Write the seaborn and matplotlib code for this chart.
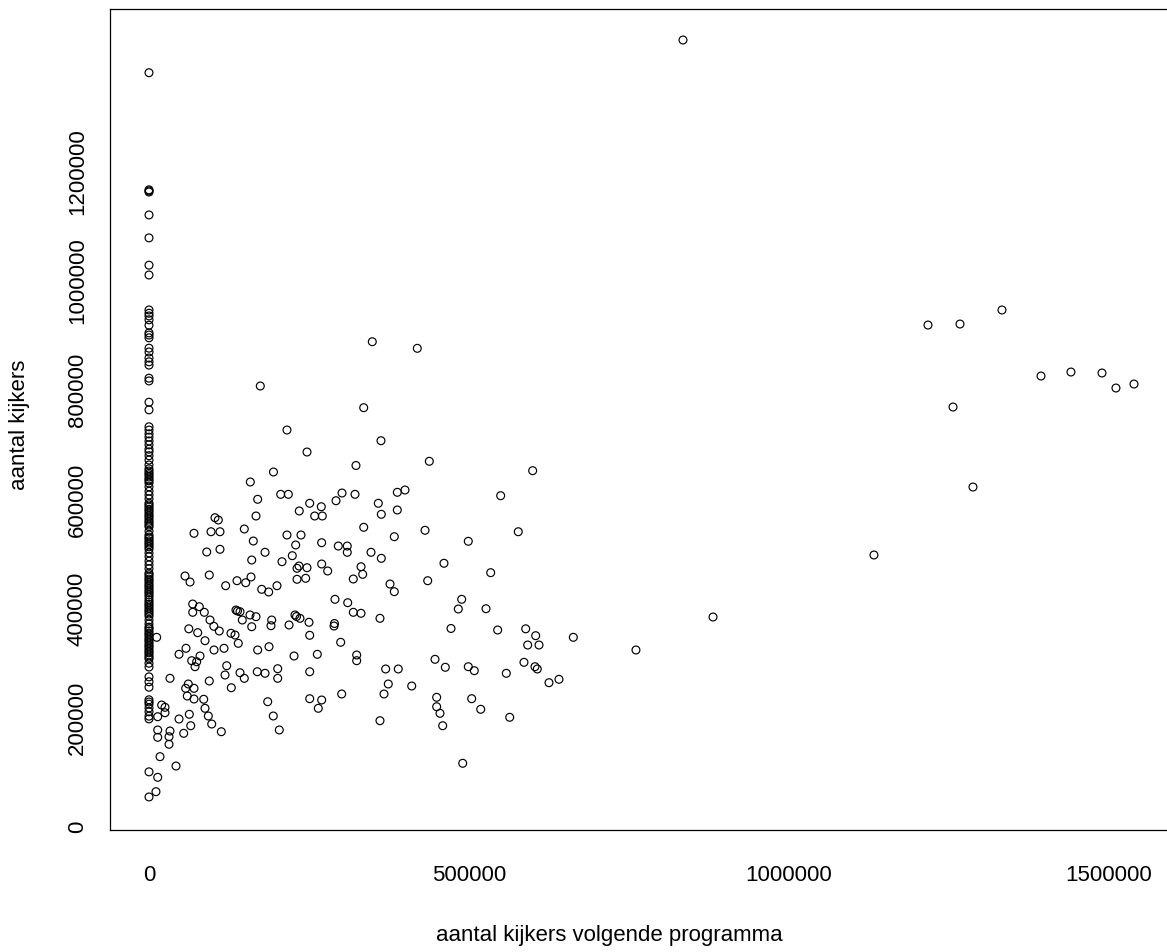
import matplotlib
matplotlib.use("Agg")
import matplotlib.pyplot as plt
import numpy as np
import pandas as pd
import seaborn as sns

# ---- data ----
# programmes followed by a programme with 0 viewers (x = 0)
zero_col_kijkers = [
    1381500, 1167000, 1165000, 1163000, 1121000, 1079000, 1029000, 1011000,
    947000, 941000, 936000, 929000, 919000, 905000, 901000, 896000, 877000,
    870000, 859000, 852000, 846000, 822000, 817000, 778000, 764000, 733000,
    727000, 720000, 714000, 707000, 700000, 692000, 687000, 680000, 672000,
    663000, 656000, 652000, 648000, 645000, 641000, 637000, 634000, 630000,
    623000, 615000, 608000, 601000, 593000, 590000, 586000, 582000, 579000,
    575000, 571000, 568000, 564000, 560000, 557000, 553000, 550000, 542000,
    535000, 531000, 528000, 524000, 520000, 517000, 513000, 509000, 502000,
    495000, 487000, 480000, 473000, 465000, 462000, 458000, 454000, 451000,
    447000, 443000, 440000, 436000, 432000, 429000, 425000, 421000, 416000,
    412000, 408000, 405000, 401000, 397000, 394000, 390000, 386000, 379000,
    372000, 366000, 363000, 359000, 355000, 352000, 348000, 344000, 341000,
    337000, 333000, 330000, 326000, 322000, 319000, 315000, 311000, 308000,
    300000, 293000, 275000, 266000, 256000, 233000, 229000, 225000, 218000,
    211000, 203000, 198000, 101000, 55000,
]
zero_col_volgende = [0] * len(zero_col_kijkers)

cloud_volgende = [
    173900, 215600, 246900, 194500, 348900, 419200, 335500, 362500, 323400,
    438000, 599500, 158300, 205800, 217700, 169800, 301600, 292200, 251100,
    269200, 234800, 103100, 108300, 167200, 258900, 270800, 70300, 96900,
    110900, 148900, 215600, 237500, 163000, 229200, 269800, 295800, 90200,
    110900, 181300, 223900, 160500, 207800, 231300, 234400, 246900, 269800,
    279200, 56300, 64100, 94200, 119800, 137500, 151100, 159400, 176100,
    187000, 200000, 231300, 244800, 290600, 68300, 78600, 68300, 86400,
    135900, 138300, 142200, 145800, 157800, 167200, 191700, 228100, 230500,
    235900, 218800, 250000, 289100, 289800, 95300, 62200, 101300, 160500,
    190600, 76100, 109800, 87500, 12000, 128100, 134400, 139500, 251100,
    299500, 57800, 46900, 66700, 74500, 71900, 79700, 101600, 117200, 169800,
    187500, 226600, 263000, 121400, 118800, 142200, 148900, 169200, 181300,
    201100, 201100, 251100, 32800, 94200, 61400, 57300, 70300, 59800, 70300,
    128600, 85500, 87500, 92700, 98000, 113000, 185500, 194200, 203600,
    251100, 269800, 264500, 301100, 19800, 25000, 13600, 25000, 46900, 63000,
    65200, 54200, 32800, 31300, 31300, 13600, 13600, 17200, 42200, 13600,
    10900, 321900, 388000, 400000, 358300, 363000, 388000, 549500, 335500,
    383300, 431300, 577000, 498900, 309800, 309800, 346900, 363000, 331300,
    333900, 319200, 376600, 383300, 460900, 435500, 533900, 310500, 319200,
    331300, 360900, 488600, 483300, 526600, 471900, 544800, 588600, 591700,
    324500, 324500, 369800, 389500, 446900, 463000, 498900, 508300, 558300,
    585900, 373900, 367200, 410500, 449500, 449500, 454700, 458900, 504200,
    518300, 563600, 360900, 490200, 604200, 609400, 663000, 603100, 606700,
    625000, 640600, 760900, 881300,
]
cloud_kijkers = [
    807700, 727100, 686800, 650200, 888800, 876700, 768000, 707500, 662100,
    669800, 652600, 631900, 609300, 609300, 600200, 611700, 597600, 592900,
    586600, 578800, 566500, 562300, 569600, 569600, 569600, 537900, 540800,
    540800, 545800, 534800, 534800, 523800, 516500, 520700, 514600, 503700,
    508600, 503100, 496900, 489000, 485900, 473800, 478000, 474900, 481700,
    468900, 459700, 448700, 461500, 441900, 451100, 447400, 457900, 435300,
    430400, 441900, 453700, 455500, 417000, 408400, 403500, 393200, 393200,
    397400, 395600, 394300, 379100, 388300, 385200, 379100, 388300, 385500,
    382200, 370000, 374900, 368100, 372700, 379100, 363000, 367600, 366800,
    368700, 355900, 359000, 341200, 347400, 354800, 351600, 336400, 351100,
    338300, 327300, 316300, 304600, 302700, 293600, 313200, 324200, 327300,
    324200, 330200, 313200, 316300, 295400, 278400, 282600, 272300, 284400,
    281500, 289900, 272300, 284400, 272300, 267400, 261900, 254000, 254000,
    239900, 234400, 255100, 233900, 217400, 203300, 188600, 174500, 229500,
    203300, 177700, 235000, 232600, 217400, 243600, 223400, 219200, 202000,
    209300, 197800, 206400, 185500, 171600, 175800, 165400, 151500, 177700,
    164300, 128800, 111700, 91000, 64700, 609300, 613000, 617200, 592900,
    572700, 580600, 606800, 548900, 531700, 543400, 540800, 523300, 514600,
    503100, 503100, 492100, 476700, 462800, 454200, 445000, 431000, 483000,
    451100, 465800, 410800, 393200, 391400, 382200, 417000, 399300, 399800,
    363600, 360800, 363000, 333300, 315000, 304600, 289400, 289400, 307100,
    292500, 293600, 286300, 281500, 301600, 261900, 243600, 258200, 237500,
    220300, 208200, 185500, 235000, 215600, 200900, 194700, 116700, 350400,
    333300, 347400, 293600, 289400, 264300, 270500, 324200, 384600,
]

right_volgende = [834400, 1217200, 1267200, 1332800, 1256300, 1287500,
                  1132800, 1393800, 1440600, 1489100, 1510900, 1539100]
right_kijkers = [1441400, 919400, 921200, 946900, 769200, 622700,
                 498200, 826000, 833300, 831500, 804000, 811300]

x_ticks = [0, 500000, 1000000, 1500000]
x_tick_labels = ["0", "500000", "1000000", "1500000"]
y_ticks = [0, 200000, 400000, 600000, 800000, 1000000, 1200000]
y_tick_labels = ["0", "200000", "400000", "600000", "800000", "1000000", "1200000"]

df = pd.DataFrame({
    "volgende": zero_col_volgende + cloud_volgende + right_volgende,
    "kijkers": zero_col_kijkers + cloud_kijkers + right_kijkers,
})

# ---- drawing ----
sns.set_theme(style="white")
plt.rcParams["font.family"] = ["Liberation Sans", "DejaVu Sans"]
FS = 16

W, H = 1167, 952
fig = plt.figure(figsize=(W / 100, H / 100), dpi=100)
fig.patch.set_facecolor("white")
left_px, right_px, top_px, bottom_px = 110, 1174, 9, 830
ax = fig.add_axes([left_px / W, 1 - bottom_px / H,
                   (right_px - left_px) / W, (bottom_px - top_px) / H])
ax.set_facecolor("white")

sns.scatterplot(data=df, x="volgende", y="kijkers", ax=ax, marker="o", s=32,
                color="black", facecolor="none", edgecolor="black",
                linewidth=0.85, legend=False)
for coll in ax.collections:
    coll.set_facecolor("none")
    coll.set_edgecolor("black")

ax.set_xlim(-60937, 1601600)
ax.set_ylim(-5500, 1498200)

ax.set_xticks(x_ticks)
ax.set_xticklabels(x_tick_labels)
ax.set_yticks(y_ticks)
ax.set_yticklabels(y_tick_labels, rotation=90, va="center")

ax.tick_params(axis="both", direction="out", length=10, width=0.8,
               color="black", labelsize=FS, labelcolor="black")
ax.tick_params(axis="x", pad=15)
ax.tick_params(axis="y", pad=6)
ax.grid(False)
for sp in ax.spines.values():
    sp.set_visible(True)
    sp.set_color("black")
    sp.set_linewidth(0.9)

ax.set_xlabel("")
ax.set_ylabel("")
fig.text(609 / W, 1 - 935 / H, "aantal kijkers volgende programma",
         ha="center", va="center", fontsize=FS, color="black")
fig.text(20 / W, 1 - 425 / H, "aantal kijkers", rotation=90,
         ha="center", va="center", fontsize=FS, color="black")

fig.savefig("out.png", dpi=100, facecolor="white")
